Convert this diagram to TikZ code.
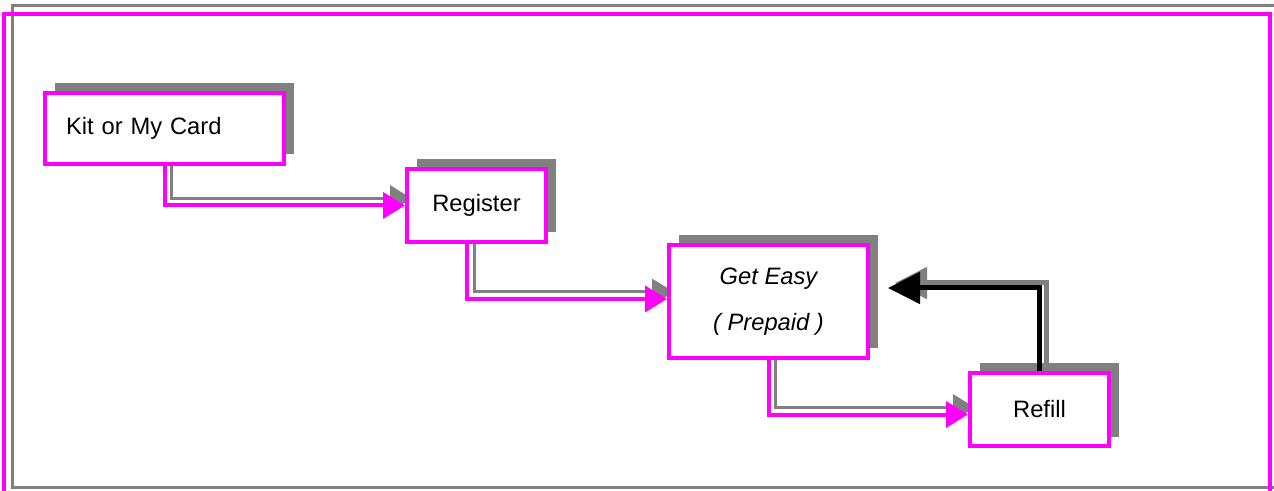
\documentclass[tikz,border=0pt]{standalone}
\usepackage{fontspec}
\setmainfont{Liberation Sans}
\usetikzlibrary{arrows.meta,shadows,backgrounds}
\definecolor{cardpink}{HTML}{FF00FF}
\definecolor{shadowgray}{HTML}{808080}

\begin{document}
\begin{tikzpicture}
  \tikzset{box/.style = {shape=rectangle,draw=cardpink,line width=0.08cm,fill=white,
      minimum width=2.78cm,minimum height=1.46cm,inner sep=0pt,
      font=\fontsize{13.5}{26}\selectfont,
      drop shadow={shadow xshift=0.19cm,shadow yshift=0.19cm,fill=shadowgray,opacity=1}}}
  \tikzset{link/.style = {cardpink,line width=0.08cm,-{Triangle[length=0.44cm,width=0.52cm]}}}
  \tikzset{linkshade/.style = {shadowgray,line width=0.06cm,-{Triangle[length=0.44cm,width=0.52cm]}}}
  \useasboundingbox (0,0) rectangle (25.48,-9.82);

  % frame
  \draw[shadowgray,line width=0.06cm] (0.24,-0.12) rectangle (25.7,-9.74);
  \draw[cardpink,line width=0.08cm] (0.08,-0.28) rectangle (25.4,-10.2);

	\node[box,text width=3.94cm,inner xsep=0.42cm,minimum width=4.78cm,minimum height=1.42cm,align=left] (kit) at (3.29,-2.57) {Kit or My Card};
	\node[box] (reg) at (9.53,-4.11) {Register};
	\node[box,minimum width=3.98cm,minimum height=2.26cm,align=center,font=\fontsize{13.5}{26}\selectfont\itshape] (get) at (15.37,-6.03) {Get Easy\\( Prepaid )};
	\node[box] (refill) at (20.79,-8.19) {Refill};
	\coordinate (back) at ([xshift=0.36cm,yshift=0.27cm]get.east);

    \foreach \from/\to/\dx/\dy in {kit/reg/0/0, reg/get/-0.19/0.05, get/refill/0/-0.1}
    {
      \begin{scope}[on background layer]
        \draw[linkshade] ([shift={(\dx+0.14,0.14)}]\from.south) |- ([shift={(0.14,\dy+0.14)}]\to.west);
      \end{scope}
      \draw[link] ([xshift=\dx cm]\from.south) |- ([yshift=\dy cm]\to.west);
    }

  \begin{scope}[on background layer]
    \draw[shadowgray,line width=0.1cm,-{Triangle[length=0.64cm,width=0.62cm]}] ([shift={(0.14,0.12)}]refill.north) |- ([shift={(0.14,0.1)}]back);
  \end{scope}
  \draw[black,line width=0.1cm,-{Triangle[length=0.64cm,width=0.62cm]}] (refill.north) |- (back);
\end{tikzpicture}
\end{document}
